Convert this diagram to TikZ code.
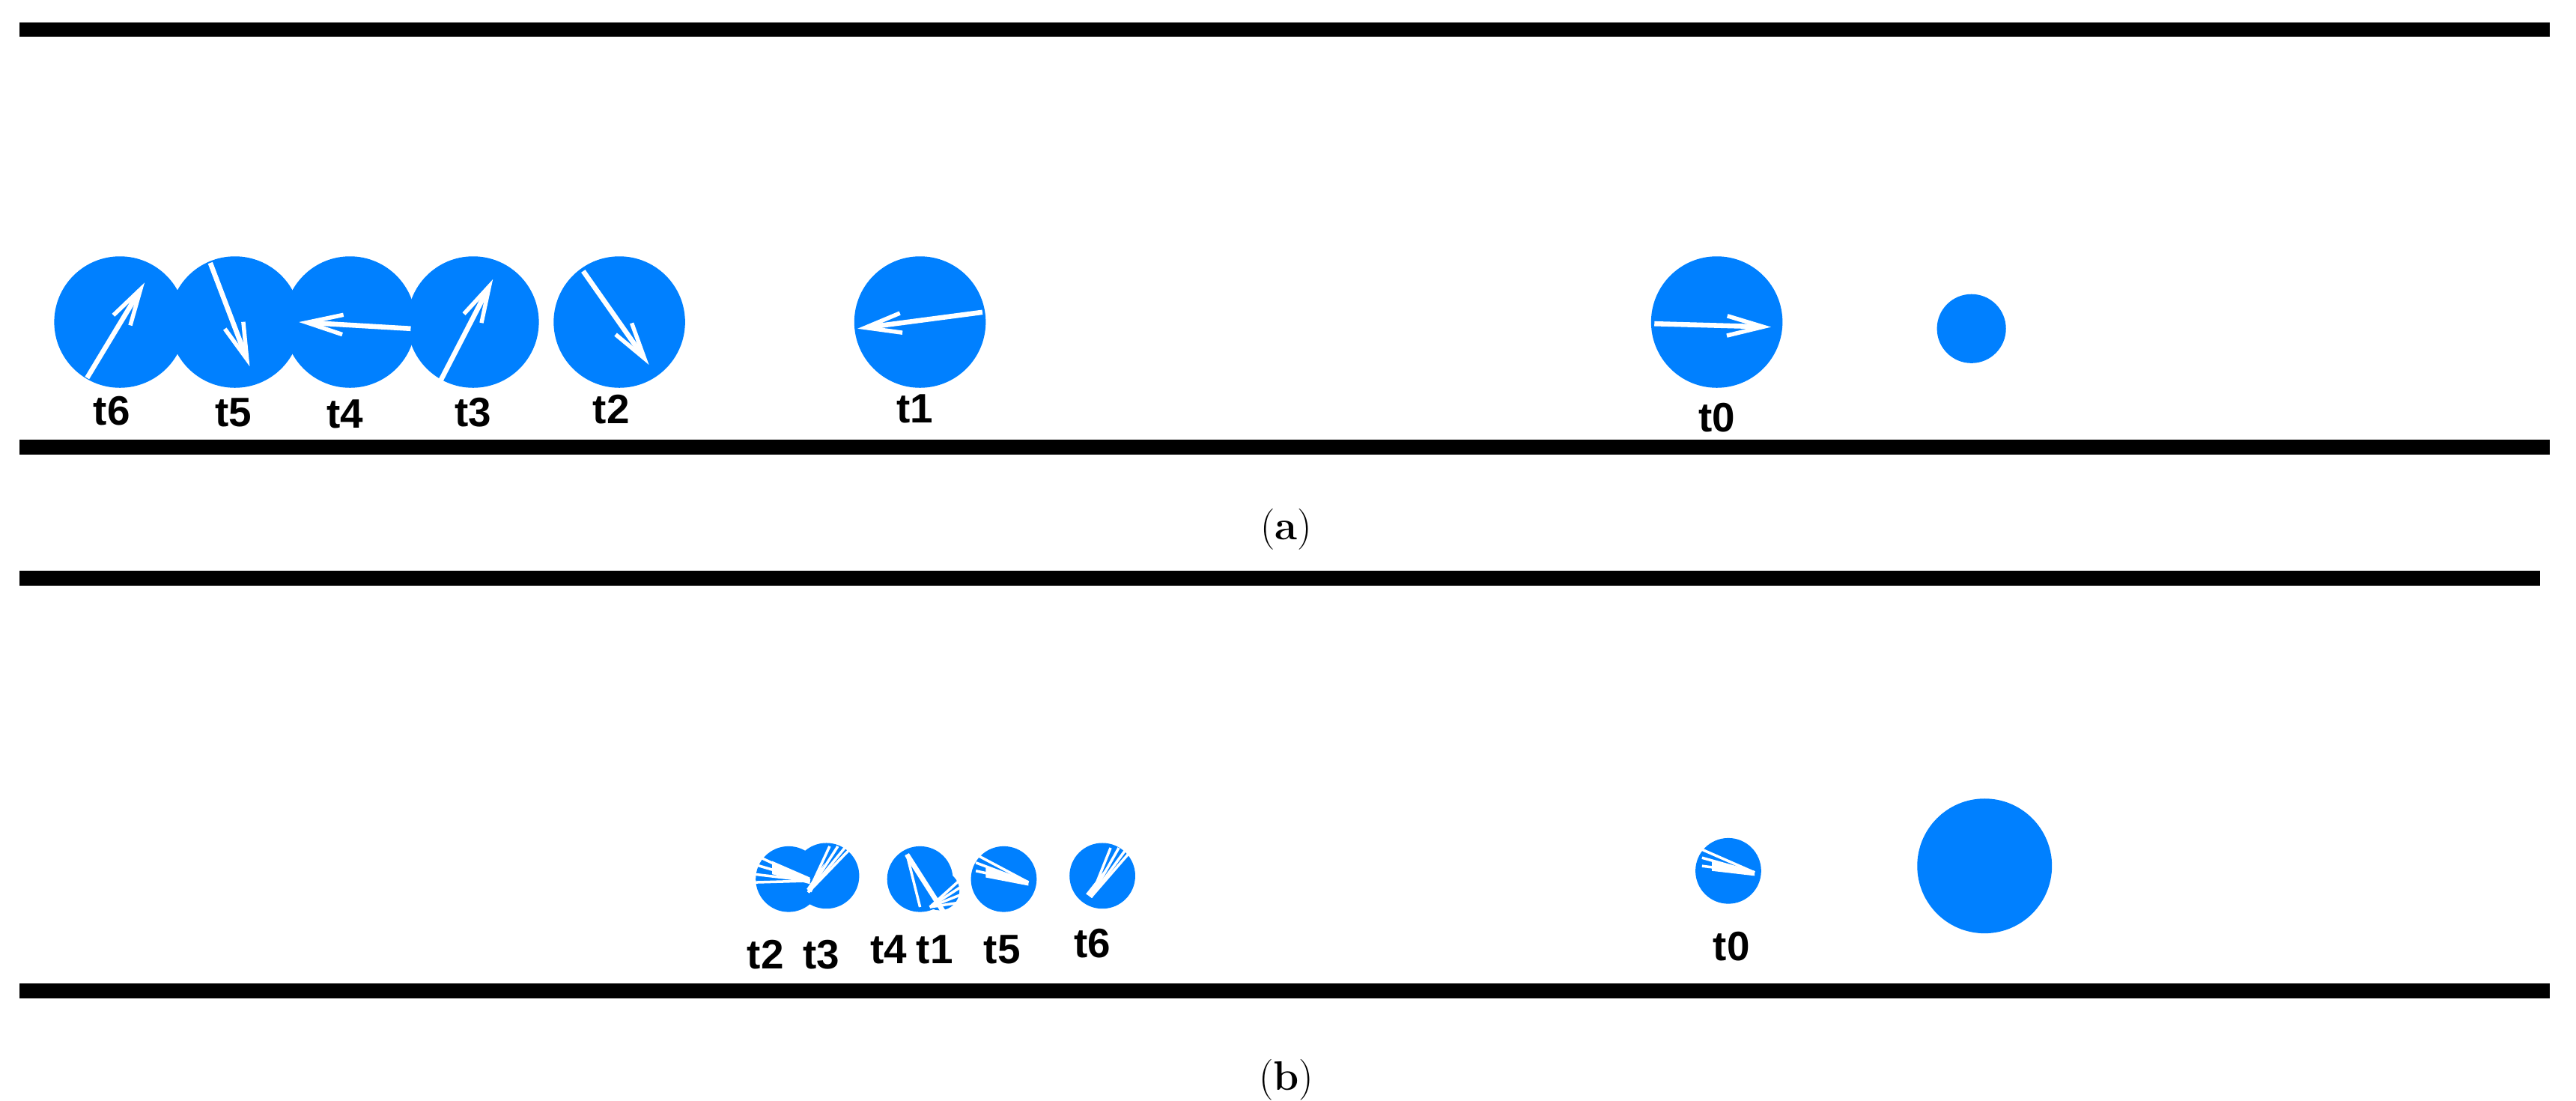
\documentclass[tikz,border=0pt]{standalone}
\usepackage{fontspec}
\newfontfamily\lab{Liberation Sans}
\usetikzlibrary{arrows.meta}
\definecolor{ball}{RGB}{0,128,255}
\begin{document}
\begin{tikzpicture}[x=1pt,y=-1pt,
  wall/.style={line width=9pt},
  ball/.style={circle,fill=ball,inner sep=0pt,minimum size=#1},
  vel/.style={white,line width=3pt,-{Straight Barb[length=22pt,width=12pt,line width=2.5pt]}},
  fan/.style={white,line width=1.6pt},
  tl/.style={font=\lab\bfseries\fontsize{25}{25}\selectfont},
  captxt/.style={font=\fontsize{25}{25}\selectfont}]
\useasboundingbox (0,0) rectangle (1568,670);
% walls
\coordinate (a1) at (12,18); \coordinate (a2) at (1552,18);
\coordinate (a3) at (12,272); \coordinate (a4) at (1552,272);
\coordinate (b1) at (12,352); \coordinate (b2) at (1546,352);
\coordinate (b3) at (12,603); \coordinate (b4) at (1552,603);
\draw[wall] (a1)--(a2); \draw[wall] (a3)--(a4);
\draw[wall] (b1)--(b2); \draw[wall] (b3)--(b4);
\node[captxt] (capa) at (783,322) {(\textbf{a})};
\node[captxt] (capb) at (783,657) {(\textbf{b})};
% panel a
\foreach \n/\x in {6/73,5/143,4/213,3/288,2/377,1/560,0/1045}
  \node[ball=80pt] (A\n) at (\x,196) {};
\node[ball=42pt] (Aobs) at (1200,200) {};
\draw[vel] (53,230)--(88,172);
\draw[vel] (128,160)--(152,223);
\draw[vel] (250,200)--(182,196);
\draw[vel] (268,232)--(300,170);
\draw[vel] (355,165)--(395,222);
\draw[vel] (598,190)--(522,200);
\draw[vel] (1007,197)--(1078,199);
\foreach \n/\x/\y in {6/68/250,5/142/251,4/210/252,3/288/251,2/372/249,1/557/249,0/1045/254}
  \node[tl] (LA\n) at (\x,\y) {t\n};
% panel b
\foreach \n/\x/\y in {2/480/535,3/503/533,4/560/535,5/611/535,6/671/533,0/1052/530}
  \node[ball=40pt] (B\n) at (\x,\y) {};
\node[ball=24pt] (B1) at (572,542) {};
\node[ball=82pt] (Bobs) at (1208,527) {};
% fans
\foreach \dy in {-12,-6,0,5} \draw[fan] (459,532+\dy)--(493,536);
\fill[white] (470,524)--(493,534)--(493,538)--(470,532)--cycle;
\foreach \dx in {-3,2,7,11} \draw[fan] (508+\dx,515)--(492,543);
\fill[white] (502,525)--(494,543)--(491,541)--cycle;
\draw[white,line width=3pt] (552,520)--(575,556);
\draw[white,line width=1.6pt] (552,520)--(560,552);
\foreach \dy in {-8,-3,2,7} \draw[fan] (586,542+\dy)--(566,552);
\foreach \dy in {-8,-3,2} \draw[fan] (594,528+\dy)--(626,537);
\fill[white] (600,528)--(626,536)--(626,539)--(600,534)--cycle;
\foreach \dx in {-4,1,6,10} \draw[fan] (680+\dx,516)--(664,546);
\fill[white] (676,525)--(664,546)--(661,544)--cycle;
\foreach \dy in {-8,-3,2} \draw[fan] (1036,525+\dy)--(1068,531);
\fill[white] (1042,524)--(1068,530)--(1068,533)--(1042,530)--cycle;
\foreach \n/\x/\y in {2/466/581,3/500/581,4/541/578,1/569/578,5/610/578,6/665/574,0/1054/576}
  \node[tl] (LB\n) at (\x,\y) {t\n};
\end{tikzpicture}
\end{document}
